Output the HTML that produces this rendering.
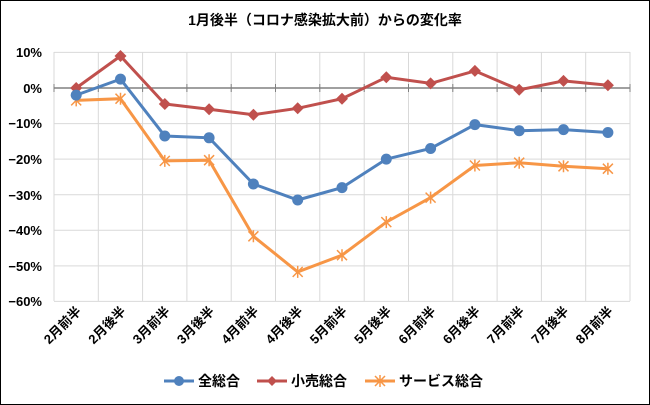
<!DOCTYPE html><html><head><meta charset="utf-8"><style>body{margin:0;background:#fff}svg{display:block;font-family:"Liberation Sans","Noto Sans CJK JP",sans-serif}</style></head><body>
<svg width="650" height="405" xmlns="http://www.w3.org/2000/svg" xmlns:xlink="http://www.w3.org/1999/xlink">
<defs>
<circle id="mc" cx="0" cy="0" r="5.5" fill="#4f81bd"/>
<path id="md" d="M0 -6L6 0L0 6L-6 0Z" fill="#c0504d"/>
<path id="mx" d="M-5 -5L5 5M-5 5L5 -5M0 -6V6" stroke="#f79646" stroke-width="1.5"/>
</defs>
<rect x="0.5" y="0.5" width="649" height="404" fill="#fff" stroke="#000"/>
<text x="325" y="25" text-anchor="middle" font-size="14" font-weight="bold" fill="#000">1月後半（コロナ感染拡大前）からの変化率</text>
<g stroke="#d9d9d9">
<line x1="54" y1="52" x2="54" y2="301"/><line x1="98.3" y1="52" x2="98.3" y2="301"/><line x1="142.6" y1="52" x2="142.6" y2="301"/><line x1="186.9" y1="52" x2="186.9" y2="301"/><line x1="231.2" y1="52" x2="231.2" y2="301"/><line x1="275.5" y1="52" x2="275.5" y2="301"/><line x1="319.8" y1="52" x2="319.8" y2="301"/><line x1="364.2" y1="52" x2="364.2" y2="301"/><line x1="408.5" y1="52" x2="408.5" y2="301"/><line x1="452.8" y1="52" x2="452.8" y2="301"/><line x1="497.1" y1="52" x2="497.1" y2="301"/><line x1="541.4" y1="52" x2="541.4" y2="301"/><line x1="585.7" y1="52" x2="585.7" y2="301"/><line x1="630" y1="52" x2="630" y2="301"/>
<line x1="54" y1="52.4" x2="630" y2="52.4"/><line x1="54" y1="123.6" x2="630" y2="123.6"/><line x1="54" y1="159.1" x2="630" y2="159.1"/><line x1="54" y1="194.7" x2="630" y2="194.7"/><line x1="54" y1="230.3" x2="630" y2="230.3"/><line x1="54" y1="265.9" x2="630" y2="265.9"/><line x1="54" y1="301.4" x2="630" y2="301.4"/>
</g>
<g stroke="#808080" stroke-width="1.5">
<line x1="54" y1="88" x2="630" y2="88"/>
<path d="M54 84V92M98.3 84V92M142.6 84V92M186.9 84V92M231.2 84V92M275.5 84V92M319.8 84V92M364.2 84V92M408.5 84V92M452.8 84V92M497.1 84V92M541.4 84V92M585.7 84V92M630 84V92" stroke-width="1"/>
</g>
<g font-size="13" font-weight="bold" text-anchor="end">
<text x="42" y="57">10%</text><text x="42" y="93">0%</text><text x="42" y="128">−10%</text><text x="42" y="164">−20%</text><text x="42" y="200">−30%</text><text x="42" y="235">−40%</text><text x="42" y="271">−50%</text><text x="42" y="306">−60%</text>
</g>
<g font-size="13" font-weight="bold" text-anchor="end">
<text transform="translate(82,312) rotate(-45)">2月前半</text>
<text transform="translate(126.5,312) rotate(-45)">2月後半</text>
<text transform="translate(170.8,312) rotate(-45)">3月前半</text>
<text transform="translate(215.1,312) rotate(-45)">3月後半</text>
<text transform="translate(259.4,312) rotate(-45)">4月前半</text>
<text transform="translate(303.7,312) rotate(-45)">4月後半</text>
<text transform="translate(348,312) rotate(-45)">5月前半</text>
<text transform="translate(392.3,312) rotate(-45)">5月後半</text>
<text transform="translate(436.6,312) rotate(-45)">6月前半</text>
<text transform="translate(480.9,312) rotate(-45)">6月後半</text>
<text transform="translate(525.2,312) rotate(-45)">7月前半</text>
<text transform="translate(569.5,312) rotate(-45)">7月後半</text>
<text transform="translate(613.8,312) rotate(-45)">8月前半</text>
</g>
<polyline fill="none" stroke="#f79646" stroke-width="3" points="76.2,100.4 120.5,98.7 164.8,160.9 209.1,160.2 253.4,236.3 297.7,271.9 342,255.2 386.3,222.1 430.6,197.6 474.9,165.5 519.2,162.7 563.5,166.3 607.9,168.7"/>
<polyline fill="none" stroke="#c0504d" stroke-width="3" points="76.2,88 120.5,56 164.8,104 209.1,109.3 253.4,114.7 297.7,108.3 342,98.7 386.3,77.3 430.6,83.4 474.9,70.9 519.2,89.8 563.5,80.9 607.9,85.2"/>
<polyline fill="none" stroke="#4f81bd" stroke-width="3" points="76.2,95.1 120.5,79.1 164.8,136 209.1,137.8 253.4,184 297.7,200 342,187.6 386.3,159.1 430.6,148.5 474.9,124.6 519.2,130.7 563.5,129.6 607.9,132.5"/>
<use href="#mx" xlink:href="#mx" x="76.2" y="100.4"/><use href="#mx" xlink:href="#mx" x="120.5" y="98.7"/><use href="#mx" xlink:href="#mx" x="164.8" y="160.9"/><use href="#mx" xlink:href="#mx" x="209.1" y="160.2"/><use href="#mx" xlink:href="#mx" x="253.4" y="236.3"/><use href="#mx" xlink:href="#mx" x="297.7" y="271.9"/><use href="#mx" xlink:href="#mx" x="342" y="255.2"/><use href="#mx" xlink:href="#mx" x="386.3" y="222.1"/><use href="#mx" xlink:href="#mx" x="430.6" y="197.6"/><use href="#mx" xlink:href="#mx" x="474.9" y="165.5"/><use href="#mx" xlink:href="#mx" x="519.2" y="162.7"/><use href="#mx" xlink:href="#mx" x="563.5" y="166.3"/><use href="#mx" xlink:href="#mx" x="607.9" y="168.7"/>
<use href="#md" xlink:href="#md" x="76.2" y="88"/><use href="#md" xlink:href="#md" x="120.5" y="56"/><use href="#md" xlink:href="#md" x="164.8" y="104"/><use href="#md" xlink:href="#md" x="209.1" y="109.3"/><use href="#md" xlink:href="#md" x="253.4" y="114.7"/><use href="#md" xlink:href="#md" x="297.7" y="108.3"/><use href="#md" xlink:href="#md" x="342" y="98.7"/><use href="#md" xlink:href="#md" x="386.3" y="77.3"/><use href="#md" xlink:href="#md" x="430.6" y="83.4"/><use href="#md" xlink:href="#md" x="474.9" y="70.9"/><use href="#md" xlink:href="#md" x="519.2" y="89.8"/><use href="#md" xlink:href="#md" x="563.5" y="80.9"/><use href="#md" xlink:href="#md" x="607.9" y="85.2"/>
<use href="#mc" xlink:href="#mc" x="76.2" y="95.1"/><use href="#mc" xlink:href="#mc" x="120.5" y="79.1"/><use href="#mc" xlink:href="#mc" x="164.8" y="136"/><use href="#mc" xlink:href="#mc" x="209.1" y="137.8"/><use href="#mc" xlink:href="#mc" x="253.4" y="184"/><use href="#mc" xlink:href="#mc" x="297.7" y="200"/><use href="#mc" xlink:href="#mc" x="342" y="187.6"/><use href="#mc" xlink:href="#mc" x="386.3" y="159.1"/><use href="#mc" xlink:href="#mc" x="430.6" y="148.5"/><use href="#mc" xlink:href="#mc" x="474.9" y="124.6"/><use href="#mc" xlink:href="#mc" x="519.2" y="130.7"/><use href="#mc" xlink:href="#mc" x="563.5" y="129.6"/><use href="#mc" xlink:href="#mc" x="607.9" y="132.5"/>
<line x1="164" y1="381" x2="194" y2="381" stroke="#4f81bd" stroke-width="3"/><circle cx="179" cy="381" r="5" fill="#4f81bd"/>
<text x="198" y="386" font-size="14" font-weight="bold">全総合</text>
<line x1="257" y1="381" x2="287" y2="381" stroke="#c0504d" stroke-width="3"/><path d="M272 376L277 381L272 386L267 381Z" fill="#c0504d"/>
<text x="291" y="386" font-size="14" font-weight="bold">小売総合</text>
<line x1="365" y1="381" x2="395" y2="381" stroke="#f79646" stroke-width="3"/><path d="M375 376L385 386M375 386L385 376M380 375V387" stroke="#f79646" stroke-width="1.5"/>
<text x="399" y="386" font-size="14" font-weight="bold">サービス総合</text>
</svg></body></html>
